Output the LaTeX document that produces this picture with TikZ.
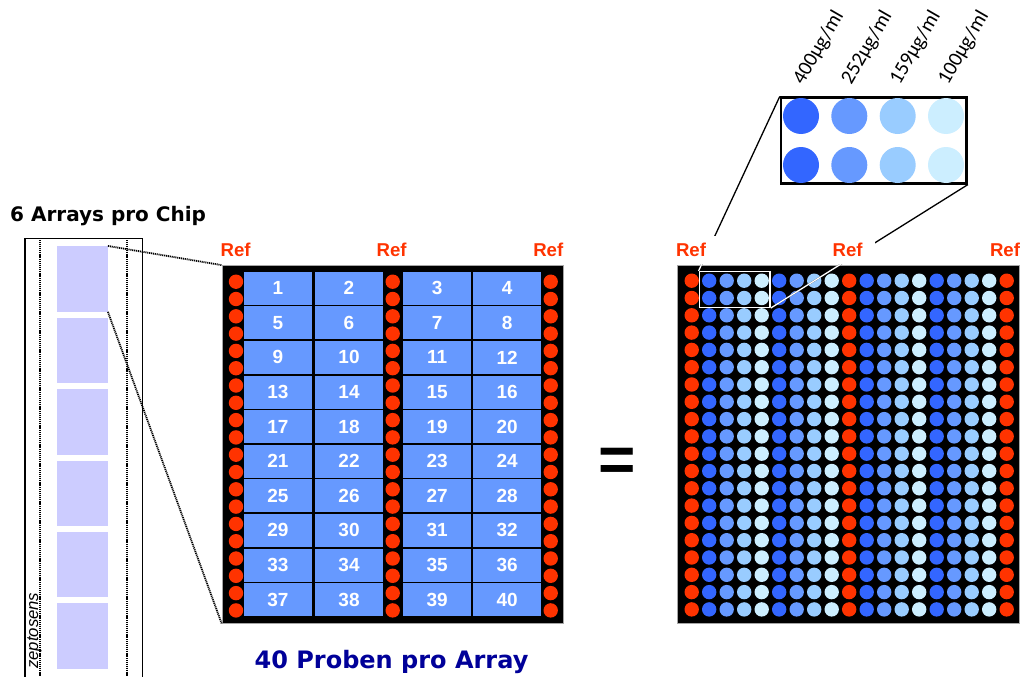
\documentclass[tikz,border=0pt]{standalone}
\usepackage{fontspec}
\setmainfont{Liberation Sans}
\newfontfamily\verdana{DejaVu Sans}
\newfontfamily\calibri{Carlito}
\usetikzlibrary{calc}

\definecolor{refred}{HTML}{FF3300}
\definecolor{bluea}{HTML}{3366FF}
\definecolor{blueb}{HTML}{6699FF}
\definecolor{bluec}{HTML}{99CCFF}
\definecolor{blued}{HTML}{CCEEFF}
\definecolor{chipblue}{HTML}{CCCCFF}
\definecolor{navy}{HTML}{000099}

\tikzset{
  cell/.style={fill=blueb, minimum width=67.5pt, minimum height=33pt, inner sep=0pt,
    text=white, font=\bfseries\fontsize{19}{19}\selectfont},
  reflabel/.style={text=refred, font=\bfseries\fontsize{18.6}{18.6}\selectfont, inner sep=0pt, anchor=base},
  conc/.style={rotate=60, anchor=base west, inner sep=0pt, font=\calibri\fontsize{20.5}{20.5}\selectfont},
  chiplink/.style={line width=1.8pt, dash pattern=on 1.1pt off 0.8pt},
  plate/.style={fill=black, draw=black!35, line width=0.8pt, inner sep=0pt}
}

\begin{document}
\begin{tikzpicture}[x=1pt, y=-1pt]
  \useasboundingbox (0,0) rectangle (1023,677);

  % chip with six arrays
  \node[font=\verdana\bfseries\fontsize{20}{20}\selectfont, anchor=base west, inner sep=0pt] (chiptitle) at (10,221) {6 Arrays pro Chip};
  \draw[line width=1.2pt] (25,677) -- (25,238.3) -- (142.7,238.3) -- (142.7,677);
  \draw[chiplink] (40,238.3) -- (40,677);
  \draw[chiplink] (126.7,238.3) -- (126.7,677);
  \foreach \i in {1,...,6}
    \node[fill=chipblue, minimum width=51pt, minimum height=65.5pt, inner sep=0pt] (a\i) at (82.2,{278.9+71.45*(\i-1)}) {};
  \node[rotate=90, anchor=base west, inner sep=0pt, font=\itshape\fontsize{16.7}{16.7}\selectfont] (maker) at (38,669) {zeptosens};

  % one array with 40 samples
  \node[plate, minimum width=341pt, minimum height=357.5pt] (mid) at (392.5,444.25) {};
  \foreach \r in {0,...,9}
    \foreach \c/\x in {1/277.85,2/349,3/437.15,4/507.15} {
      \pgfmathtruncatemacro\n{4*\r+\c}
      \node[cell] (p\n) at (\x,{288.2+34.6*\r}) {\n};
    }
  \foreach \x in {236,392.7,550.7}
    \foreach \j in {0,...,19}
      \fill[refred] (\x,{281.7+17.3*\j}) circle (7.2);
  \node[reflabel] (refa) at (235.7,256.7) {Ref};
  \node[reflabel] (refb) at (391.7,256.7) {Ref};
  \node[reflabel] (refc) at (548.3,256.7) {Ref};
  \draw[chiplink] (a1.north east) -- (mid.north west);
  \draw[chiplink] (a1.south east) -- (mid.south west);
  \node[font=\verdana\bfseries\fontsize{24}{24}\selectfont, text=navy, anchor=base, inner sep=0pt] (caption) at (391.5,668.3) {40 Proben pro Array};

  \node[font=\bfseries\fontsize{64}{64}\selectfont, inner sep=0pt, anchor=base] (eq) at (617,481) {=};

  % spot pattern
  \node[plate, minimum width=342pt, minimum height=358.5pt] (full) at (848,444.25) {};
  \foreach \i in {0,...,18} {
    \pgfmathtruncatemacro\k{mod(\i,9)}
    \ifnum\k=0 \def\col{refred}\else
      \pgfmathtruncatemacro\k{mod(\k-1,4)}
      \ifcase\k \def\col{bluea}\or\def\col{blueb}\or\def\col{bluec}\or\def\col{blued}\fi
    \fi
    \foreach \j in {0,...,19}
      \fill[\col] ({691.7+17.5*\i},{280.7+17.3*\j}) circle (7.2);
  }
  \node[draw=white, line width=1.5pt, minimum width=70.7pt, minimum height=35.6pt, inner sep=0pt] (hl) at (734.65,289.5) {};

  % enlarged detail
  \node[draw=black, fill=white, line width=2.5pt, minimum width=185.7pt, minimum height=85.6pt, inner sep=0pt] (zoom) at (873.85,140.5) {};
  \foreach \c/\x/\lbl in {bluea/801/400,blueb/849.3/252,bluec/897.7/159,blued/946/100} {
    \fill[\c] (\x,116) circle (18);
    \fill[\c] (\x,165) circle (18);
    \node[conc] (c\lbl) at (\x+2,86) {\lbl µg/ml};
  }
  \draw[line width=1.3pt] (zoom.north west) -- (hl.north west);
  \draw[line width=1.3pt] (zoom.south east) -- (hl.south east);
  \node[reflabel, fill=white, inner xsep=12pt, inner ysep=7pt] (refd) at (691,256.7) {Ref};
  \node[reflabel, fill=white, inner xsep=12pt, inner ysep=7pt] (refe) at (847.7,256.7) {Ref};
  \node[reflabel, fill=white, inner xsep=3pt, inner ysep=3pt] (reff) at (1005,256.7) {Ref};
  \begin{scope}
    \clip (full.north west) rectangle (full.south east);
    \draw[white, line width=1.3pt] (zoom.north west) -- (hl.north west);
    \draw[white, line width=1.3pt] (zoom.south east) -- (hl.south east);
  \end{scope}
\end{tikzpicture}
\end{document}
